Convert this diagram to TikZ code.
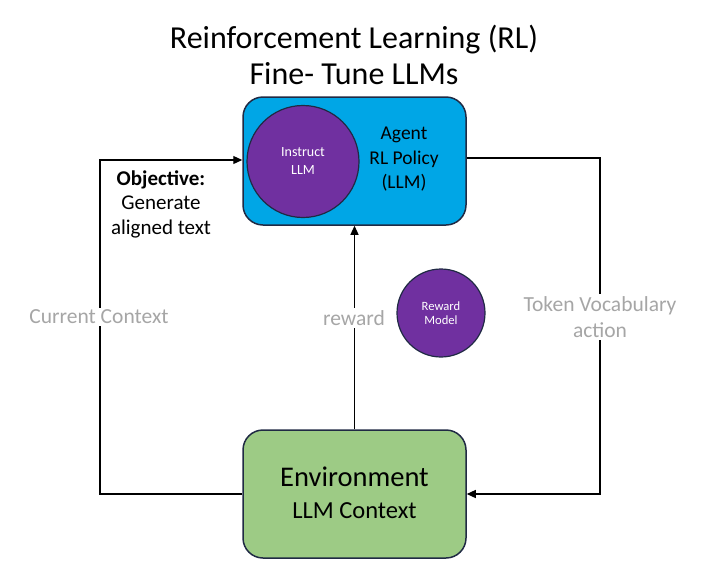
\documentclass[tikz,border=0pt]{standalone}
\usepackage{fontspec}
\setmainfont{Carlito}
\usetikzlibrary{arrows.meta}
\definecolor{agentblue}{RGB}{0,166,230}
\definecolor{navy}{RGB}{32,42,68}
\definecolor{llmpurple}{RGB}{112,48,160}
\definecolor{envgreen}{RGB}{157,203,133}
\definecolor{lblgray}{RGB}{166,166,166}
\tikzset{
  box/.style={draw=navy, line width=1.5pt, rounded corners=20pt, minimum width=223pt, minimum height=128pt, inner sep=0pt},
  circ/.style={circle, draw=navy, line width=1.2pt, fill=llmpurple, text=white, align=center, inner sep=0pt},
  conn/.style={line width=1.2pt, -{Triangle[length=9pt,width=8pt]}},
  glabel/.style={text=lblgray, fill=white, font=\fontsize{21.5}{26}\selectfont, align=center, inner sep=2pt},
  txt/.style={align=center, inner sep=0pt},
}
\begin{document}
\begin{tikzpicture}[x=1pt,y=-1pt]
\useasboundingbox (0,0) rectangle (723,579);
\node[txt, font=\fontsize{32}{36}\selectfont] (title) at (354,55) {Reinforcement Learning (RL)\\Fine- Tune LLMs};
\node[box, fill=agentblue] (agent) at (354.5,161) {};
\node[box, fill=envgreen] (env) at (354.5,494) {};
\node[circ, minimum size=112pt, font=\fontsize{14}{18}\selectfont] (instruct) at (303,161.5) {Instruct\\LLM};
\node[txt, font=\fontsize{19.5}{24.5}\selectfont] (agenttxt) at (404,159.5) {Agent\\RL Policy\\(LLM)};
\node[circ, minimum size=88pt, font=\fontsize{12.6}{14.5}\selectfont] (reward) at (441,313) {Reward\\Model};
\node[txt, font=\fontsize{28.5}{33}\selectfont] (envtxt) at (354.5,493) {Environment\\[-1pt]{\fontsize{24.5}{28}\selectfont LLM Context}};
\coordinate (lt) at (100,160);
\coordinate (lb) at (100,494);
\coordinate (rt) at (600,158);
\coordinate (rb) at (600,494);
\draw[conn] (env.west) -- (lb) -- (lt) -- (agent.west |- lt);
\draw[conn] (agent.east |- rt) -- (rt) -- (rb) -- (env.east);
\draw[conn] (env.north) -- (agent.south);
\node[glabel] (cc) at (99,317) {Current Context};
\node[glabel] (rw) at (354,318) {reward};
\node[glabel] (tv) at (600,317) {Token Vocabulary\\action};
\node[txt, font=\fontsize{21}{24.5}\selectfont] (obj) at (161,204) {\textbf{Objective:}\\Generate\\aligned text};
\end{tikzpicture}
\end{document}
